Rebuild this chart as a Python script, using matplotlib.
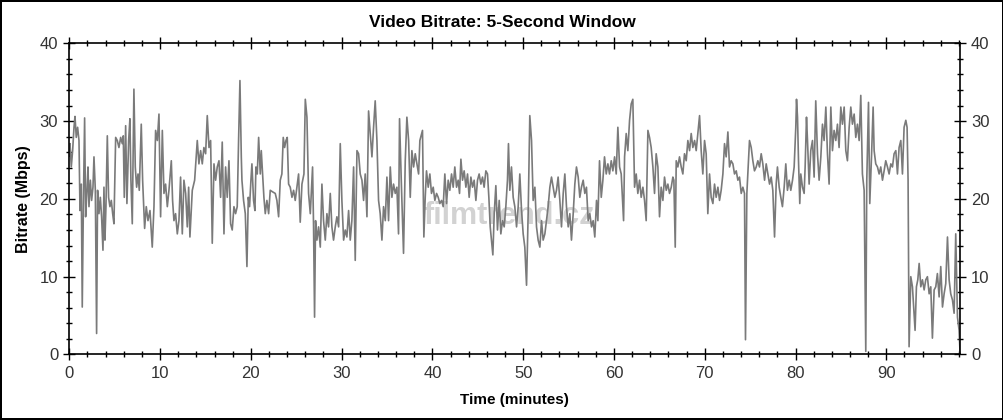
import matplotlib
matplotlib.use("Agg")
import matplotlib.pyplot as plt
from matplotlib.ticker import MultipleLocator
import numpy as np

plt.rcParams['font.family'] = ['Liberation Sans', 'DejaVu Sans']

# time (minutes) / bitrate (Mbps)
seg_a_t = [0.0, 0.08, 0.22, 0.37, 0.52, 0.63, 0.77, 0.92, 1.07, 1.18, 1.32, 1.43, 1.55, 1.69, 1.80, 1.95,
           2.06, 2.17, 2.32, 2.46, 2.61, 2.72, 2.87, 3.01, 3.12, 3.27, 3.42, 3.56, 3.71, 3.82, 3.93, 4.04,
           4.19, 4.33, 4.48, 4.63, 4.78, 4.92, 5.11, 5.29, 5.47, 5.66, 5.84, 5.95, 6.06, 6.21, 6.35, 6.54,
           6.68, 6.79, 6.94, 7.12, 7.27, 7.42, 7.57, 7.71, 7.93, 8.08, 8.30, 8.48, 8.67, 8.89, 9.14, 9.33,
           9.51, 9.70, 9.88, 10.06, 10.25, 10.43, 10.61, 10.80, 10.98, 11.24, 11.38, 11.53, 11.71, 11.90,
           12.08, 12.26, 12.45, 12.63, 12.82, 13.00, 13.15, 13.29, 13.55, 13.81, 14.10, 14.28, 14.47,
           14.65, 14.83, 15.02, 15.20, 15.39, 15.57, 15.75, 15.94, 16.12, 16.30, 16.49, 16.67, 16.85,
           17.04, 17.22, 17.40, 17.59, 17.77, 17.95, 18.14, 18.32, 18.50, 18.65, 18.80, 18.95]
seg_a_v = [25.5, 27.1, 24.1, 26.2, 29.2, 30.6, 27.9, 29.2, 27.5, 18.5, 21.9, 6.1, 19.0, 30.4, 17.7, 21.1,
           24.1, 19.0, 22.4, 19.8, 21.5, 25.4, 21.1, 2.7, 21.1, 18.1, 20.2, 17.7, 13.4, 21.5, 14.7, 19.0,
           28.1, 20.2, 19.0, 19.8, 18.1, 16.8, 27.9, 27.5, 26.6, 27.9, 27.1, 28.1, 20.2, 29.4, 19.4, 27.5,
           30.3, 22.4, 16.8, 34.1, 24.1, 21.5, 23.2, 21.1, 29.6, 22.4, 16.2, 19.0, 17.2, 18.5, 13.8, 19.0,
           28.8, 27.5, 30.9, 17.7, 28.8, 20.7, 21.9, 19.0, 21.1, 24.9, 19.8, 17.2, 18.1, 15.5,
           17.2, 22.8, 15.5, 22.4, 20.7, 16.4, 21.5, 15.1, 21.1, 22.4, 27.5, 24.5, 26.2,
           24.5, 26.6, 25.8, 30.7, 26.6, 27.5, 14.3, 24.5, 22.4, 24.1, 24.9, 20.2, 27.3,
           15.5, 24.1, 20.2, 24.9, 16.8, 16.0, 19.0, 18.1, 19.0, 27.5, 35.2, 25.4]

seg_b_t = [19.02, 19.20, 19.39, 19.57, 19.72, 19.86, 20.01, 20.12, 20.30, 20.45, 20.56, 20.71, 20.86,
           21.04, 21.15, 21.30, 21.44, 21.59, 21.77, 21.96, 22.14, 22.40, 22.69, 22.87, 23.06, 23.24,
           23.42, 23.57, 23.72, 23.87, 24.01, 24.16, 24.34, 24.53, 24.71, 24.89, 25.08, 25.26, 25.44,
           25.63, 25.85, 26.00, 26.18, 26.36, 26.55, 26.80, 26.91, 27.02, 27.13, 27.28, 27.46, 27.65,
           27.83, 28.01, 28.20, 28.38, 28.56, 28.75, 28.93, 29.11, 29.30, 29.48, 29.67, 29.85, 30.03,
           30.22, 30.40, 30.58, 30.77, 30.95, 31.13, 31.32, 31.50, 31.69, 31.87, 32.05, 32.24, 32.42,
           32.60, 32.79, 32.97, 33.15, 33.34, 33.52, 33.70, 33.89, 34.07, 34.25, 34.44, 34.62, 34.81,
           34.99, 35.17, 35.36, 35.54, 35.72, 35.91, 36.09, 36.27, 36.38, 36.57, 36.82, 37.01, 37.19,
           37.38, 37.56, 37.74, 37.93, 38.11, 38.29, 38.48]
seg_b_v = [22.4, 19.8, 18.1, 11.3, 20.2, 19.0, 22.4, 24.5, 19.8, 18.5, 24.1, 23.2, 27.9,
           23.2, 26.2, 23.2, 20.2, 18.1, 19.8, 18.1, 21.1, 20.9, 20.7, 19.8, 17.7, 22.4,
           23.2, 27.9, 26.6, 27.5, 27.9, 21.9, 21.5, 20.2, 21.1, 19.8, 21.5, 23.2, 17.0,
           21.9, 23.2, 32.8, 30.5, 20.7, 18.1, 24.1, 16.4, 4.8, 17.2, 14.7, 16.4, 13.8,
           21.9, 17.2, 14.7, 18.1, 16.4, 20.7, 16.4, 14.7, 16.4, 17.7, 16.4, 27.1, 19.8,
           14.7, 16.0, 15.1, 18.5, 14.7, 17.2, 24.1, 12.1, 26.2, 25.8, 23.2, 22.4, 19.8,
           23.2, 17.7, 31.3, 28.4, 25.4, 29.2, 32.6, 27.5, 19.8, 18.1, 14.7, 19.0, 17.2,
           22.8, 17.2, 24.1, 20.2, 21.9, 20.7, 21.5, 15.5, 30.3, 22.4, 13.0, 24.9, 30.5,
           27.5, 20.2, 26.2, 24.1, 25.8, 24.5, 23.2]

seg_c_t = [38.62, 38.91, 39.06, 39.21, 39.35, 39.54, 39.72, 39.90, 40.09, 40.27, 40.46, 40.64, 40.82,
           41.01, 41.19, 41.37, 41.56, 41.74, 41.92, 42.11, 42.29, 42.47, 42.66, 42.84, 42.99, 43.14,
           43.32, 43.50, 43.69, 43.87, 44.05, 44.24, 44.42, 44.60, 44.79, 44.97, 45.15, 45.34, 45.52,
           45.70, 45.89, 46.07, 46.22, 46.37, 46.51, 46.66, 46.81, 46.99, 47.17, 47.36, 47.54, 47.72,
           47.91, 48.09, 48.27, 48.38, 48.53, 48.71, 48.90, 49.08, 49.27, 49.45, 49.63, 49.82, 50.00,
           50.18, 50.37, 50.55, 50.73, 50.92, 51.10, 51.29, 51.47, 51.65, 51.84, 52.02, 52.20, 52.39,
           52.57, 52.75, 52.94, 53.12, 53.30, 53.49, 53.67, 53.85, 54.04, 54.22, 54.41, 54.59, 54.77,
           54.96, 55.14, 55.32, 55.51, 55.69, 55.87, 56.06, 56.24, 56.42, 56.61, 56.79, 56.97, 57.16,
           57.34, 57.53, 57.71, 57.89, 58.08]
seg_c_v = [27.5, 28.8, 15.1, 20.2, 23.6, 21.5, 23.2, 20.7, 21.5, 19.8, 20.7, 20.2, 19.4,
           19.8, 19.0, 23.2, 19.4, 22.4, 21.1, 23.2, 21.5, 24.1, 21.5, 22.4, 20.7, 25.1,
           22.4, 23.6, 21.5, 23.2, 20.2, 22.8, 21.5, 22.4, 19.8, 22.4, 23.2, 21.9, 22.8,
           21.5, 23.6, 23.2, 20.2, 16.4, 14.7, 12.8, 18.1, 21.7, 16.0, 19.8, 15.5, 17.2,
           16.4, 19.0, 22.4, 27.1, 21.1, 24.1, 20.2, 19.0, 16.4, 19.0, 23.2, 18.5, 15.5,
           13.8, 8.9, 18.1, 30.7, 27.5, 19.8, 21.5, 16.4, 14.7, 13.8, 17.2, 14.7, 15.5,
           17.2, 19.0, 21.5, 22.8, 21.5, 20.2, 21.1, 22.8, 19.8, 16.4, 20.7, 23.2, 19.0,
           16.4, 18.1, 14.7, 18.1, 21.9, 24.1, 22.8, 20.2, 21.5, 22.4, 20.7, 21.5, 17.2,
           18.1, 16.4, 17.2, 15.1, 19.8]

seg_d_t = [58.23, 58.41, 58.60, 58.78, 58.96, 59.15, 59.33, 59.51, 59.70, 59.88, 60.07, 60.25, 60.43,
           60.62, 60.80, 61.06, 61.17, 61.35, 61.53, 61.72, 61.90, 62.08, 62.27, 62.45, 62.63, 62.82,
           63.00, 63.19, 63.37, 63.55, 63.74, 63.92, 64.10, 64.29, 64.47, 64.65, 64.84, 65.02, 65.20,
           65.39, 65.57, 65.76, 65.94, 66.12, 66.31, 66.49, 66.60, 66.75, 66.86, 67.04, 67.22, 67.41,
           67.59, 67.77, 67.96, 68.14, 68.33, 68.51, 68.69, 68.88, 69.06, 69.24, 69.43, 69.61, 69.79,
           69.98, 70.16, 70.34, 70.53, 70.71, 70.90, 71.08, 71.26, 71.45, 71.63, 71.81, 72.00, 72.18,
           72.36, 72.55, 72.73, 72.91, 73.10, 73.28, 73.47, 73.65, 73.83, 74.02, 74.20, 74.38, 74.49,
           74.64, 74.79, 74.93, 75.12, 75.30, 75.48, 75.67, 75.85, 76.03, 76.22, 76.40, 76.59, 76.77,
           76.95, 77.14, 77.32, 77.50, 77.69, 77.87]
seg_d_v = [17.2, 24.9, 20.2, 22.4, 25.4, 23.2, 24.5, 23.2, 24.9, 23.6, 25.4, 23.2, 29.2,
           24.1, 23.2, 17.2, 25.4, 28.4, 26.2, 30.1, 32.2, 32.8, 21.5, 23.2, 20.7, 22.4,
           20.2, 21.5, 19.8, 17.2, 28.8, 27.9, 26.6, 24.1, 20.7, 25.8, 24.1, 17.7, 21.5,
           19.8, 22.8, 21.1, 21.9, 20.7, 21.5, 22.8, 22.4, 13.8, 24.9, 24.1, 25.4, 24.1,
           23.2, 25.8, 24.9, 27.5, 26.2, 28.4, 26.6, 27.5, 26.2, 28.4, 30.7, 26.2, 23.2,
           27.5, 25.8, 18.1, 23.2, 20.2, 19.4, 21.9, 20.2, 21.5, 19.8, 21.1, 23.2, 27.1,
           25.4, 28.6, 24.1, 24.9, 24.5, 23.2, 23.6, 22.4, 22.8, 20.7, 21.5, 20.7, 1.9,
           20.7, 24.1, 27.5, 26.6, 24.9, 23.6, 24.1, 24.9, 24.1, 25.8, 24.5, 22.4, 24.5,
           23.2, 21.9, 22.8, 21.1, 15.1, 21.9]

seg_e_t = [78.01, 78.20, 78.38, 78.56, 78.75, 78.93, 79.11, 79.30, 79.48, 79.67, 79.85, 80.03, 80.11,
           80.22, 80.33, 80.47, 80.58, 80.77, 80.95, 81.06, 81.21, 81.32, 81.50, 81.68, 81.87, 82.05,
           82.23, 82.42, 82.60, 82.79, 82.97, 83.15, 83.34, 83.52, 83.70, 83.89, 84.07, 84.25, 84.44,
           84.62, 84.80, 84.99, 85.17, 85.36, 85.54, 85.72, 85.91, 86.09, 86.27, 86.46, 86.64, 86.82,
           87.01, 87.19, 87.37, 87.56, 87.74, 87.85, 88.04, 88.18, 88.37, 88.55, 88.66, 88.84, 89.03,
           89.21, 89.39, 89.58, 89.76, 89.94, 90.13, 90.31, 90.50, 90.68, 90.86, 91.05, 91.23, 91.41,
           91.60, 91.78, 91.96, 92.15, 92.29, 92.40, 92.51, 92.70, 92.88, 93.06, 93.17, 93.32, 93.47,
           93.62, 93.80, 93.98, 94.17, 94.35, 94.53, 94.72, 94.90, 95.08, 95.27, 95.45, 95.63, 95.82,
           96.00, 96.19, 96.37, 96.55, 96.74, 96.92, 97.10, 97.29, 97.47, 97.65, 97.84, 98.02, 98.13]
seg_e_v = [24.1, 21.5, 20.2, 19.0, 21.5, 24.5, 21.1, 22.4, 21.1, 22.4, 24.1, 29.2, 32.8,
           30.5, 24.9, 19.4, 23.2, 21.5, 20.7, 24.1, 30.5, 27.5, 21.9, 26.2, 27.5, 22.8,
           32.6, 25.8, 22.4, 25.4, 29.6, 27.5, 31.8, 25.8, 21.9, 31.8, 26.2, 28.8, 27.5,
           29.6, 26.6, 31.8, 29.6, 31.8, 26.2, 24.9, 29.2, 31.8, 29.6, 30.9, 27.9, 29.6,
           27.5, 33.3, 23.2, 21.1, 0.4, 22.4, 32.4, 19.4, 25.4, 31.8, 26.2, 24.5, 24.1,
           23.2, 24.1, 22.4, 23.6, 24.9, 24.1, 23.2, 24.5, 24.1, 25.8, 26.2, 23.2, 26.6,
           27.5, 23.2, 29.2, 30.1, 29.2, 22.4, 1.0, 10.0, 8.7, 5.3, 3.1, 8.7, 9.6,
           11.7, 8.7, 9.6, 8.3, 9.6, 10.0, 7.8, 8.7, 2.1, 8.3, 8.7, 10.4, 7.4,
           11.3, 6.1, 7.8, 9.1, 15.1, 9.6, 7.8, 7.0, 5.3, 15.5, 4.8, 3.1, 0.1]

time_min = np.concatenate([seg_a_t, seg_b_t, seg_c_t, seg_d_t, seg_e_t])
bitrate = np.concatenate([seg_a_v, seg_b_v, seg_c_v, seg_d_v, seg_e_v])

fig = plt.figure(figsize=(10.04, 4.2), dpi=100)
fig.patch.set_edgecolor('black')
fig.patch.set_linewidth(1.5)
ax = fig.add_axes([0.069, 0.156, 0.887, 0.741])

# faint watermark behind the trace
ax.text(48.5, 17.8, "filmtrend.cz", color='#d2d2d2', fontsize=22, fontweight='bold',
        ha='center', va='center', zorder=1)

ax.plot(time_min, bitrate, color='#7a7a7a', lw=1.2, zorder=2)

ax.set_xlim(0, 98.1)
ax.set_ylim(0, 40)
ax.xaxis.set_major_locator(MultipleLocator(10))
ax.xaxis.set_minor_locator(MultipleLocator(2))
ax.yaxis.set_major_locator(MultipleLocator(10))
ax.yaxis.set_minor_locator(MultipleLocator(2))
ax.tick_params(which='both', top=True, right=True, labelright=True, direction='inout',
               colors='black', labelcolor='#333333', labelsize=12)
ax.tick_params(which='major', length=9, width=1)
ax.tick_params(which='minor', length=4, width=1)
for s in ax.spines.values():
    s.set_linewidth(1.2)

ax.set_xlabel("Time (minutes)", fontsize=11, fontweight='bold', labelpad=9)
ax.set_ylabel("Bitrate (Mbps)", fontsize=11.5, fontweight='bold', labelpad=6)
fig.suptitle("Video Bitrate: 5-Second Window", fontsize=12.5, fontweight='bold', y=0.965)

fig.savefig("out.png", dpi=100, edgecolor=fig.get_edgecolor())
